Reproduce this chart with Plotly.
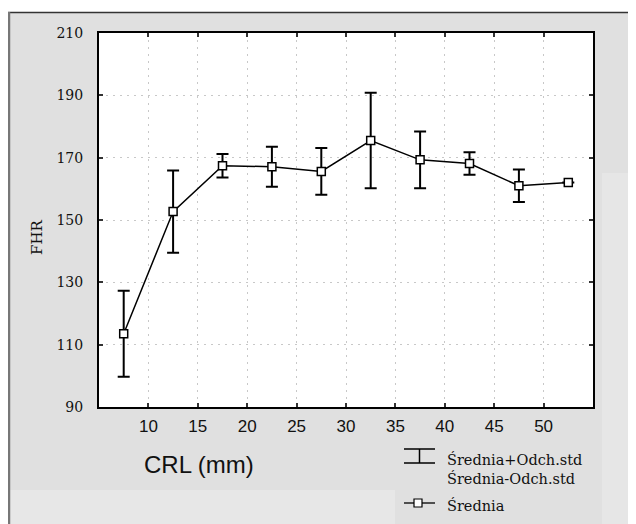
import plotly.graph_objects as go

crl = [7.5, 12.5, 17.5, 22.5, 27.5, 32.5, 37.5, 42.5, 47.5, 52.5]
fhr_mean = [113.5, 152.7, 167.4, 167.1, 165.6, 175.5, 169.3, 168.1, 161.0, 162.0]
fhr_std = [13.8, 13.2, 3.8, 6.4, 7.5, 15.3, 9.1, 3.6, 5.2, 0.0]
x_ticks = [10, 15, 20, 25, 30, 35, 40, 45, 50]
y_ticks = [90, 110, 130, 150, 170, 190, 210]

# the page body has an 8px margin; figure placed at page (8, 8)
OFF = 8
W, H = 636 - OFF, 524 - OFF
L, R, T, B = 99 - OFF, 593 - OFF, 33 - OFF, 407 - OFF


def px(x):
    # x in page pixels
    return (x - OFF - L) / (R - L)


def py(y):
    # y in page pixels
    return (B - (y - OFF)) / (B - T)


fig = go.Figure()
fig.add_trace(go.Scatter(
    x=crl, y=fhr_mean, mode="lines+markers",
    line=dict(color="black", width=1.5),
    marker=dict(symbol="square", size=8, color="white", line=dict(color="black", width=1.5)),
    error_y=dict(type="data", array=fhr_std, visible=True, color="black", thickness=2, width=6),
    showlegend=False,
))

shapes = []
# figure background panels
shapes.append(dict(type="rect", xref="paper", yref="paper", x0=px(0), x1=px(640), y0=py(0), y1=py(12),
                   fillcolor="white", line=dict(width=0), layer="below"))
shapes.append(dict(type="rect", xref="paper", yref="paper", x0=px(10), x1=px(395), y0=py(490), y1=py(530),
                   fillcolor="#e7e7e7", line=dict(width=0), layer="below"))
shapes.append(dict(type="rect", xref="paper", yref="paper", x0=px(602), x1=px(640), y0=py(173), y1=py(530),
                   fillcolor="#e6e6e6", line=dict(width=0), layer="below"))
shapes.append(dict(type="line", xref="paper", yref="paper", x0=px(8), x1=px(640), y0=py(12.5), y1=py(12.5),
                   line=dict(color="#333333", width=1.3)))
shapes.append(dict(type="line", xref="paper", yref="paper", x0=px(9), x1=px(9), y0=py(12), y1=py(530),
                   line=dict(color="#777777", width=2.5)))

# legend symbols
lx0, lx1 = 404, 435
shapes.append(dict(type="line", xref="paper", yref="paper", x0=px(lx0), x1=px(lx1), y0=py(449), y1=py(449),
                   line=dict(color="black", width=1.5)))
shapes.append(dict(type="line", xref="paper", yref="paper", x0=px(lx0), x1=px(lx1), y0=py(463), y1=py(463),
                   line=dict(color="black", width=1.5)))
shapes.append(dict(type="line", xref="paper", yref="paper", x0=px(419.5), x1=px(419.5), y0=py(449), y1=py(463),
                   line=dict(color="black", width=1.5)))
shapes.append(dict(type="line", xref="paper", yref="paper", x0=px(lx0), x1=px(lx1), y0=py(503), y1=py(503),
                   line=dict(color="black", width=1.3)))
shapes.append(dict(type="rect", xref="paper", yref="paper", x0=px(414), x1=px(422), y0=py(499), y1=py(507),
                   fillcolor="white", line=dict(color="black", width=1.2)))

serif = "DejaVu Serif"
annotations = [
    dict(text="CRL (mm)", xref="paper", yref="paper", x=px(199), y=py(464), showarrow=False,
         font=dict(family="Liberation Sans, Arial", size=24, color="#111"), xanchor="center", yanchor="middle"),
    dict(text="FHR", xref="paper", yref="paper", x=px(37), y=py(238), showarrow=False, textangle=-90,
         font=dict(family=serif, size=15, color="#111"), xanchor="center", yanchor="middle"),
    dict(text="Średnia+Odch.std", xref="paper", yref="paper", x=px(445), y=py(459), showarrow=False,
         font=dict(family=serif, size=14.5, color="#111"), xanchor="left", yanchor="middle"),
    dict(text="Średnia-Odch.std", xref="paper", yref="paper", x=px(445), y=py(479), showarrow=False,
         font=dict(family=serif, size=14.5, color="#111"), xanchor="left", yanchor="middle"),
    dict(text="Średnia", xref="paper", yref="paper", x=px(445), y=py(505), showarrow=False,
         font=dict(family=serif, size=14.5, color="#111"), xanchor="left", yanchor="middle"),
]

fig.update_layout(
    width=W, height=H,
    margin=dict(l=L, r=W - R, t=T, b=H - B, pad=0),
    paper_bgcolor="#e0e0e0", plot_bgcolor="white",
    shapes=shapes, annotations=annotations,
    showlegend=False,
    xaxis=dict(range=[5, 55], tickvals=x_ticks, ticktext=[str(v) for v in x_ticks],
               showline=True, linecolor="black", linewidth=2, mirror="ticks",
               ticks="inside", ticklen=4, tickcolor="#333", tickwidth=1.5,
               showgrid=True, gridcolor="#c8c8c8", griddash="2px,5px", gridwidth=1,
               zeroline=False, ticklabelstandoff=3,
               tickfont=dict(family="Liberation Sans, Arial", size=17, color="#111")),
    yaxis=dict(range=[90, 210], tickvals=y_ticks, ticktext=[str(v) for v in y_ticks],
               showline=True, linecolor="black", linewidth=2, mirror="ticks",
               ticks="inside", ticklen=4, tickcolor="#333", tickwidth=1.5,
               showgrid=True, gridcolor="#c8c8c8", griddash="2px,5px", gridwidth=1,
               zeroline=False, ticklabelstandoff=11,
               tickfont=dict(family=serif, size=14, color="#111")),
)

fig.write_html("out.html")
